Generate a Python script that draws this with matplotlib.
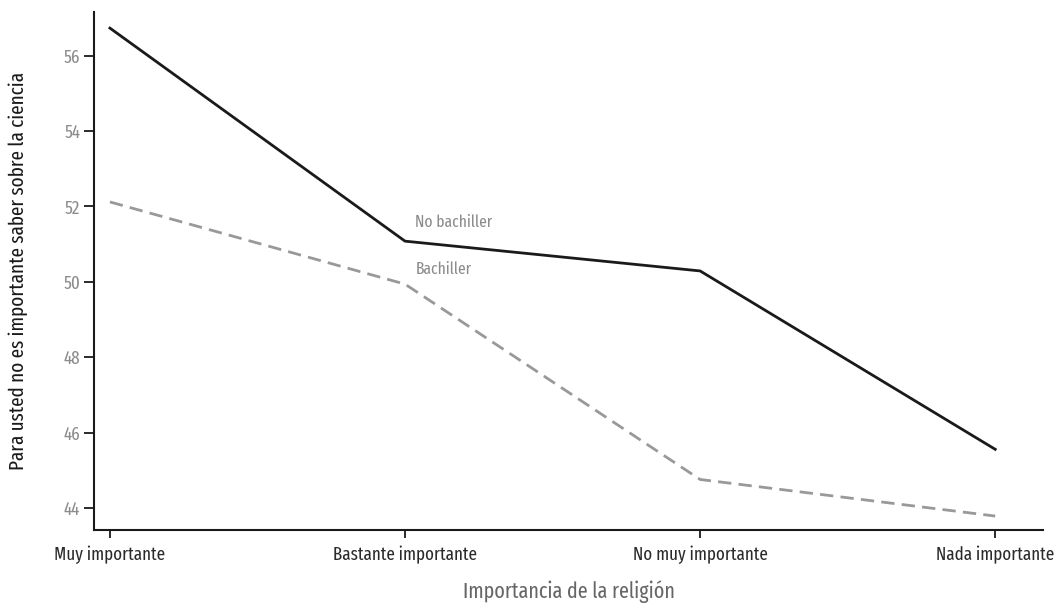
import matplotlib
matplotlib.use("Agg")
import matplotlib.pyplot as plt

plt.rcParams['font.family'] = ['Fira Sans Extra Condensed', 'DejaVu Sans']

categories = ["Muy importante", "Bastante importante", "No muy importante", "Nada importante"]
no_bachiller = [56.73, 51.08, 50.29, 45.56]
bachiller = [52.12, 49.94, 44.76, 43.79]
yticks = [44, 46, 48, 50, 52, 54, 56]

grey = "#8c8c8c"

fig = plt.figure(figsize=(10.56, 6.06), dpi=100)
ax = fig.add_axes([0.089, 0.1254, 0.899, 0.855])

x = range(len(categories))
ax.plot(x, no_bachiller, color="#1a1a1a", lw=2)
ax.plot(x, bachiller, color="#999999", lw=2, dashes=(4.8, 2.6))

ax.text(1.035, 51.45, "No bachiller", color=grey, fontsize=12.2)
ax.text(1.035, 50.2, "Bachiller", color=grey, fontsize=12.2)

ax.set_xlim(-0.054, 3.163)
ax.set_ylim(43.42, 57.16)
ax.set_xticks(list(x))
ax.set_xticklabels(categories)
ax.set_yticks(yticks)

for s in ["top", "right"]:
    ax.spines[s].set_visible(False)
for s in ["left", "bottom"]:
    ax.spines[s].set_linewidth(1.5)
    ax.spines[s].set_color("#1a1a1a")

ax.tick_params(axis="x", length=6, width=1.3, colors="#1a1a1a", labelcolor="#2a2a2a", labelsize=13.3, pad=5)
ax.tick_params(axis="y", length=7, width=1.3, colors="#1a1a1a", labelcolor=grey, labelsize=13.3, pad=3)

ax.set_xlabel("Importancia de la religión", color="#666666", fontsize=15.7, labelpad=12)
ax.set_ylabel("Para usted no es importante saber sobre la ciencia", color="#1a1a1a", fontsize=15, labelpad=25)

fig.savefig("out.png", dpi=100)
